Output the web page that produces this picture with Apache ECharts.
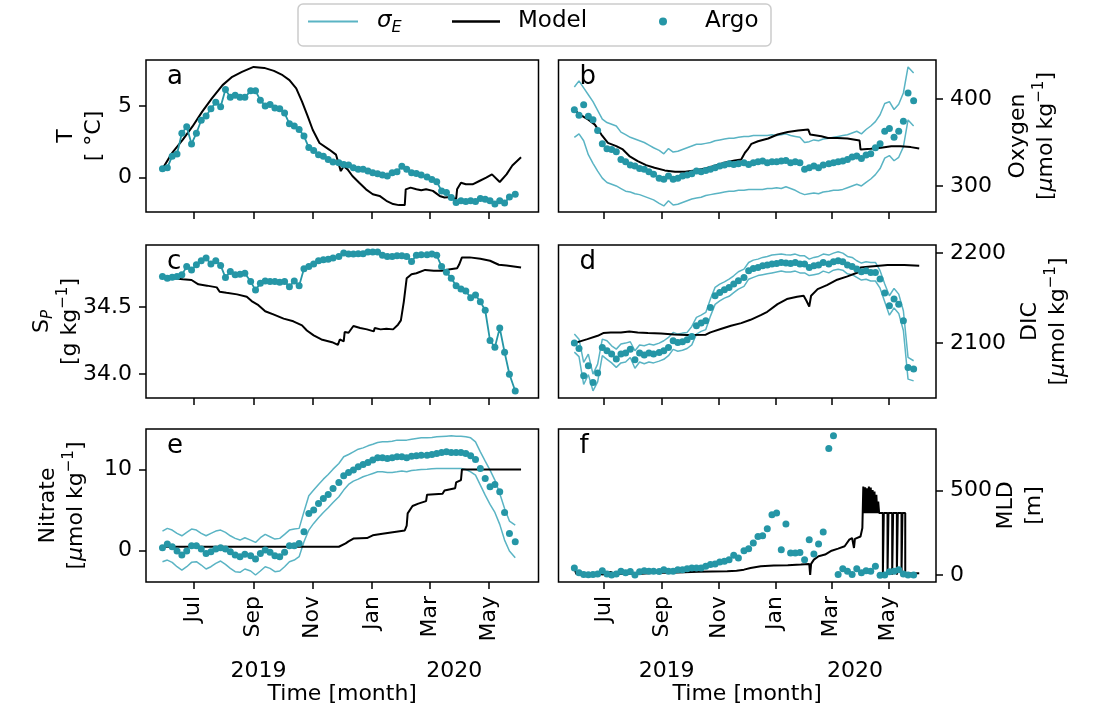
<!DOCTYPE html>
<html><head><meta charset="utf-8">
<script src="https://cdn.jsdelivr.net/npm/echarts@6/dist/echarts.min.js"></script>
<style>html,body{margin:0;padding:0;background:#fff}#c{width:1095px;height:713px}</style>
</head><body><div id="c"></div>
<script>
// ---------------- data ----------------
const MONTH_TICKS = ['2019-07-01','2019-09-01','2019-11-01','2020-01-01','2020-03-01','2020-05-01'];
const MONTH_LABELS = ['Jul','Sep','Nov','Jan','Mar','May'];
const YEAR_TICKS = ['2019-09-06','2020-03-26'];
const YEAR_LABELS = ['2019','2020'];
const X_RANGE = ['2019-05-13','2020-06-21'];

const T_TICKS = [0, 5];
const O2_TICKS = [300, 400];
const SP_TICKS = [34.0, 34.5];
const DIC_TICKS = [2100, 2200];
const NO3_TICKS = [0, 10];
const MLD_TICKS = [0, 500];

const ARGO_DATES = ['2019-05-30','2019-06-04','2019-06-09','2019-06-14','2019-06-19','2019-06-24','2019-06-29','2019-07-04','2019-07-09','2019-07-14',
'2019-07-19','2019-07-24','2019-07-29','2019-08-03','2019-08-08','2019-08-13','2019-08-18','2019-08-23','2019-08-29','2019-09-03',
'2019-09-08','2019-09-13','2019-09-18','2019-09-23','2019-09-28','2019-10-03','2019-10-08','2019-10-13','2019-10-18','2019-10-23',
'2019-10-28','2019-11-02','2019-11-07','2019-11-12','2019-11-17','2019-11-22','2019-11-28','2019-12-03','2019-12-08','2019-12-13',
'2019-12-18','2019-12-23','2019-12-28','2020-01-02','2020-01-07','2020-01-12','2020-01-17','2020-01-22','2020-01-27','2020-02-01',
'2020-02-06','2020-02-11','2020-02-16','2020-02-21','2020-02-27','2020-03-03','2020-03-08','2020-03-13','2020-03-18','2020-03-23',
'2020-03-28','2020-04-02','2020-04-07','2020-04-12','2020-04-17','2020-04-22','2020-04-27','2020-05-02','2020-05-07','2020-05-12',
'2020-05-17','2020-05-22','2020-05-28'];

const T_ARGO = [0.62,0.69,1.5,1.65,3.1,3.55,2.35,3.1,4.0,4.3, 4.8,5.25,4.95,6.15,5.6,5.75,5.6,5.6,6.05,6.05,
5.4,5.0,5.1,4.85,4.8,4.5,3.75,3.6,3.35,2.9, 2.1,1.9,1.6,1.5,1.27,1.1,1.04,0.92,0.88,0.69,
0.58,0.58,0.46,0.35,0.28,0.18,0.12,0.35,0.41,0.8, 0.58,0.35,0.3,0.18,0.05,-0.12,-0.28,-0.92,-1.04,-1.38,
-1.73,-1.61,-1.66,-1.61,-1.66,-1.45,-1.5,-1.6,-1.84,-1.61, -1.77,-1.34,-1.15];

const O2_ARGO = [387.8,381.3,393.5,380.2,376.3,363.7,348.5,342.7,342,339.3, 330.5,327.9,324,322.9,320.2,319.1,316.4,313.4,308.8,307.6,
311.5,307.6,308.8,311.5,312.6,314.1,317.2,316.4,317.9,319.1, 321,322.9,324,325.6,324.8,325.6,326.7,324.8,326.7,327.9,
328.6,326.7,327.9,327.9,328.6,329.4,326.7,327.9,326.7,319.1, 321,322.9,321,324,325.6,326.7,327.9,328.6,330.5,333.2,
334.4,331.7,335.5,337,343.9,348.5,363,366,356.1,363, 374.4,406.9,398.1];
const O2_UPPER = [414,421,413,405,397,387,377,373,371,369, 362,359,356,354,352,350,347,344,341,337,
343,339,340,342,344,346,348,348,349,350, 352,353,354,355,355,356,357,357,358,358,
358,358,359,358,359,360,358,357,356,350, 351,353,352,354,355,356,357,358,359,361,
363,360,365,369,374,382,395,397,388,394, 407,437,430];
const O2_LOWER = [356,360,352,336,326,317,309,304,302,300, 297,294,293,291,290,288,286,284,280,277,
283,278,279,281,283,285,286,287,289,290, 291,292,293,294,294,295,295,296,296,296,
296,297,297,298,297,299,297,295,292,290, 291,292,291,293,294,295,295,296,298,300,
302,300,304,308,313,320,332,335,329,333, 345,376,369];

const SP_ARGO = [34.725,34.713,34.72,34.725,34.738,34.8,34.775,34.813,34.843,34.863, 34.818,34.843,34.808,34.718,34.763,34.738,34.743,34.75,34.688,34.625,
34.675,34.693,34.688,34.688,34.683,34.688,34.65,34.693,34.658,34.783, 34.8,34.818,34.843,34.85,34.855,34.863,34.875,34.9,34.893,34.893,
34.895,34.895,34.908,34.908,34.908,34.883,34.875,34.875,34.88,34.88, 34.875,34.838,34.883,34.888,34.888,34.893,34.883,34.8,34.758,34.713,
34.658,34.633,34.618,34.568,34.588,34.538,34.475,34.25,34.2,34.343, 34.163,34.0,33.875];

const DIC_ARGO = [2100,2094,2063.7,2074.8,2056.3,2066.7,2095.2,2091.5,2087.8,2082.2, 2087.8,2088.9,2093.3,2081.5,2088.9,2086.7,2088.9,2087.8,2089.6,2091.5,
2095.2,2102.6,2100.7,2101.5,2103.7,2107.4,2119.3,2122.2,2124.8,2139.6, 2152.6,2156.3,2159.3,2161.9,2165.6,2169.3,2173,2180.4,2183,2184.1,
2186,2186.7,2187.8,2188.5,2189.6,2188.9,2188.5,2189.6,2187.8,2187.8, 2184.1,2186,2186.7,2189.6,2187.8,2190.4,2191.5,2190.4,2186.7,2185.2,
2182.2,2179.3,2180.4,2178.5,2178.5,2171.1,2155.6,2141.5,2148.9,2143.3, 2124.8,2073,2071.1];
const DIC_UPPER = [2110,2104.4,2078.5,2087.8,2065.6,2076.7,2104.4,2102.6,2097,2093.3, 2098.9,2100,2101.5,2091.5,2097.8,2097,2098.9,2097.8,2100,2102.6,
2106.3,2111.9,2110,2111.1,2111.9,2118.5,2128.5,2131.1,2134.1,2148.9, 2161.9,2165.6,2168.1,2171.1,2174.8,2179.3,2182.2,2189.6,2192.2,2193.3,
2195.2,2196.3,2197.8,2198.5,2198.9,2198.1,2197.8,2198.9,2197,2197, 2193.3,2195.2,2196.3,2198.9,2197.8,2200,2201.5,2200,2196.3,2195.2,
2191.5,2188.9,2190.4,2189.6,2189.6,2180.4,2165.6,2152.6,2160.7,2154.4, 2135.9,2084.1,2080.4];
const DIC_LOWER = [2090,2085,2054,2065,2047,2057,2086,2082,2078,2073, 2078,2079,2084,2072,2079,2077,2079,2078,2080,2082,
2086,2093,2091,2092,2094,2098,2110,2113,2115,2130, 2143,2147,2150,2152,2156,2160,2163,2171,2173,2175,
2176,2177,2178,2179,2180,2179,2179,2180,2178,2178, 2175,2176,2177,2180,2178,2181,2182,2181,2177,2176,
2173,2170,2171,2169,2169,2161,2146,2131,2139,2133, 2114,2060,2058];

const NO3_ARGO = [0.37,0.82,0.49,-0.04,-0.53,-0.04,0.61,0.61,0.2,-0.33, -0.12,0.2,0.37,0.2,-0.12,-0.53,-0.74,-0.45,-0.61,-1.02,
-0.33,0.08,-0.2,-0.61,-0.74,-0.2,0.61,0.61,0.9,2.34, 4.59,5.0,5.82,6.43,6.93,7.66,8.4,9.22,9.63,9.92,
10.33,10.61,10.86,11.15,11.43,11.43,11.35,11.43,11.56,11.56, 11.43,11.64,11.68,11.76,11.76,11.84,11.97,12.09,12.17,12.09,
12.09,12.09,11.97,11.68,11.23,10.12,8.89,7.87,8.16,7.25, 4.71,2.13,1.11];
const NO3_UPPER = [2.42,2.75,2.54,2.13,1.84,2.25,2.66,2.54,2.13,1.84, 2.13,2.42,2.54,2.25,1.84,1.52,1.31,1.6,1.31,1.02,
1.6,2.01,1.72,1.43,1.52,2.01,2.54,2.66,2.75,4.8, 6.76,7.46,8.16,8.81,9.39,10.04,10.74,11.56,11.84,12.17,
12.5,12.66,12.91,13.11,13.32,13.4,13.4,13.48,13.61,13.61, 13.61,13.73,13.81,13.89,13.89,13.93,14.02,14.06,14.1,14.14,
14.1,14.1,14.02,13.89,13.4,12.17,11.02,9.92,8.69,7.05, 5.2,3.65,3.16];
const NO3_LOWER = [-1.35,-1.15,-1.43,-1.97,-2.38,-1.97,-1.43,-1.35,-1.76,-2.25, -1.97,-1.56,-1.27,-1.68,-2.17,-2.58,-2.66,-2.25,-2.5,-2.99,
-2.5,-1.97,-2.17,-2.58,-2.5,-1.97,-1.35,-1.15,-0.74,1.11, 2.54,3.36,4.06,4.71,5.29,5.94,6.64,7.46,8.16,8.57,
8.81,9.1,9.3,9.51,9.71,9.71,9.63,9.63,9.71,9.8, 9.71,9.88,9.92,10.0,10.04,10.08,10.12,10.12,10.12,10.12,
10.12,10.12,10.0,9.71,9.3,8.07,6.84,5.7,4.71,3.24, 1.31,-0.04,-0.86];

const MLD_ARGO = [43,14,5,3,4,8,27,8,2,8, 24,14,22,2,20,27,24,24,22,33, 24,24,33,33,39,43,43,43,53,63,
67,78,82,92,118,102,145,157,190,229, 233,275,357,367,151,302,131,131,135,92, 210,125,184,255,749,824,4,39,24,4,
39,14,27,24,53,0,2,20,24,33, 8,2,2];

const MODEL_T_DATES = ['2019-05-30','2019-06-09','2019-06-20','2019-06-30','2019-07-10','2019-07-20','2019-07-31','2019-08-10','2019-08-20','2019-09-01',
'2019-09-12','2019-09-22','2019-10-01','2019-10-08','2019-10-15','2019-10-21','2019-10-27','2019-11-01','2019-11-08','2019-11-18',
'2019-11-25','2019-11-30','2019-12-03','2019-12-07','2019-12-12','2019-12-19','2019-12-26','2020-01-02','2020-01-09','2020-01-16',
'2020-01-23','2020-01-29','2020-02-04','2020-02-05','2020-02-10','2020-02-16','2020-02-21','2020-02-26','2020-03-04','2020-03-11',
'2020-03-16','2020-03-23','2020-03-28','2020-03-29','2020-04-02','2020-04-07','2020-04-14','2020-04-21','2020-04-28','2020-05-04',
'2020-05-12','2020-05-19','2020-05-25','2020-06-03'];
const MODEL_T = [0.62,1.73,2.65,3.57,4.6,5.53,6.45,7.03,7.37,7.72, 7.65,7.44,7.14,6.8,6.22,5.3,4.26,3.34,2.42,1.96,
1.61,0.46,0.8,0.58,0.12,-0.35,-0.81,-1.15,-1.27,-1.61, -1.84,-1.91,-1.91,-0.81,-0.69,-0.81,-0.88,-0.81,-0.92,-1.27,
-1.38,-1.34,-1.5,-0.81,-0.35,-0.46,-0.46,-0.23,0.0,0.23, -0.3,0.23,0.85,1.43];

const MODEL_O2_DATES = ['2019-05-30','2019-06-05','2019-06-14','2019-06-21','2019-06-28','2019-07-05','2019-07-14','2019-07-21','2019-07-28','2019-08-06',
'2019-08-15','2019-08-24','2019-09-04','2019-09-15','2019-09-26','2019-10-06','2019-10-17','2019-10-27','2019-11-07','2019-11-18',
'2019-11-25','2019-11-29','2019-12-02','2019-12-06','2019-12-13','2019-12-24','2020-01-03','2020-01-14','2020-01-25','2020-02-05',
'2020-02-07','2020-02-19','2020-02-26','2020-03-07','2020-03-18','2020-03-31','2020-04-01','2020-04-12','2020-04-23','2020-05-04',
'2020-05-14','2020-05-25','2020-06-03'];
const MODEL_O2 = [387.8,382,376.3,370.6,359.2,349.6,345.8,342,334.4,328.6, 324,321,317.9,316.4,316.4,317.9,320.2,322.9,326.7,329.4,
330.5,338.2,342,348.5,351.5,354.6,359.2,362.2,363.7,364.9, 359.2,357.3,355.3,355.3,354.6,352.3,342,342.7,343.9,345.8,
345.8,344.7,343.1];

const MODEL_SP_DATES = ['2019-05-30','2019-06-10','2019-06-20','2019-06-29','2019-07-06','2019-07-15','2019-07-25','2019-07-28','2019-08-04','2019-08-15',
'2019-08-25','2019-08-30','2019-09-06','2019-09-13','2019-09-22','2019-10-02','2019-10-12','2019-10-21','2019-10-26','2019-11-02',
'2019-11-10','2019-11-21','2019-11-27','2019-11-29','2019-12-03','2019-12-04','2019-12-08','2019-12-13','2019-12-20','2019-12-27',
'2020-01-03','2020-01-04','2020-01-10','2020-01-16','2020-01-23','2020-01-28','2020-01-31','2020-02-03','2020-02-06','2020-02-11',
'2020-02-16','2020-02-25','2020-03-05','2020-03-13','2020-03-22','2020-03-29','2020-03-31','2020-04-03','2020-04-11','2020-04-22',
'2020-05-02','2020-05-11','2020-05-19','2020-06-03'];
const MODEL_SP = [34.72,34.713,34.705,34.7,34.668,34.658,34.645,34.613,34.605,34.593, 34.575,34.543,34.513,34.468,34.443,34.413,34.393,34.363,34.325,34.288,
34.258,34.238,34.218,34.258,34.243,34.313,34.308,34.358,34.343,34.333, 34.318,34.343,34.333,34.338,34.333,34.368,34.4,34.538,34.713,34.743,
34.75,34.775,34.768,34.768,34.78,34.788,34.813,34.868,34.868,34.858, 34.843,34.813,34.808,34.793];

const MODEL_DIC_DATES = ['2019-05-30','2019-06-13','2019-06-24','2019-06-30','2019-07-08','2019-07-19','2019-07-28','2019-08-06','2019-08-17','2019-08-31',
'2019-09-14','2019-09-28','2019-10-18','2019-10-23','2019-11-03','2019-11-14','2019-11-25','2019-12-05','2019-12-16','2019-12-23',
'2020-01-03','2020-01-13','2020-01-24','2020-01-31','2020-02-03','2020-02-06','2020-02-08','2020-02-15','2020-02-25','2020-03-07',
'2020-03-18','2020-03-29','2020-04-01','2020-04-12','2020-04-30','2020-05-18','2020-06-03'];
const MODEL_DIC = [2100,2104.4,2108.1,2111.1,2111.9,2111.9,2113,2111.9,2111.1,2110.7, 2109.6,2108.9,2109.3,2111.9,2115.6,2119.3,2122.2,2125.9,2131.1,2134.8,
2143.3,2148.9,2151.5,2152.6,2147,2140.7,2152.6,2160,2164.4,2170.4, 2174.1,2178.5,2184.1,2185.2,2186.7,2186.7,2185.9];

const MODEL_NO3_DATES = ['2019-05-30','2019-11-28','2019-11-30','2019-12-05','2019-12-08','2019-12-13','2019-12-27','2020-01-02','2020-01-12','2020-01-14',
'2020-02-04','2020-02-06','2020-02-07','2020-02-12','2020-02-18','2020-02-20','2020-02-26','2020-02-27','2020-03-14','2020-03-16',
'2020-03-27','2020-03-28','2020-04-02','2020-04-03','2020-06-03'];
const MODEL_NO3 = [0.49,0.49,0.7,0.9,1.15,1.5,1.55,1.9,2.1,2.3, 2.5,3.1,4.6,5.5,5.8,6.0,6.1,6.9,7.0,7.4, 7.7,8.4,8.7,10.0,10.0];

const MODEL_MLD_DATES = ['2019-05-30','2019-06-01','2019-06-10','2019-06-20','2019-06-30','2019-07-08','2019-07-12','2019-07-25','2019-08-10','2019-08-25',
'2019-09-10','2019-09-25','2019-10-10','2019-10-25','2019-11-10','2019-11-20','2019-11-28','2019-12-05','2019-12-16','2019-12-30',
'2020-01-14','2020-01-28','2020-02-06','2020-02-07','2020-02-08','2020-02-11','2020-02-16','2020-02-23','2020-03-01','2020-03-08',
'2020-03-15','2020-03-20','2020-03-23','2020-03-25','2020-03-26','2020-04-01','2020-04-03','2020-04-04','2020-04-05','2020-04-06',
'2020-04-07','2020-04-08','2020-04-09','2020-04-10','2020-04-11','2020-04-12','2020-04-13','2020-04-14','2020-04-15','2020-04-16',
'2020-04-17','2020-04-18','2020-04-19','2020-04-20','2020-04-21','2020-04-25','2020-04-25','2020-04-26','2020-04-30','2020-04-30',
'2020-05-01','2020-05-05','2020-05-05','2020-05-06','2020-05-10','2020-05-10','2020-05-11','2020-05-15','2020-05-15','2020-05-16',
'2020-05-19','2020-05-19','2020-05-25','2020-06-03'];
const MODEL_MLD = [43,8,3,12,5,20,6,10,8,15, 14,18,20,22,24,27,33,43,53,57,
59,63,67,2,67,92,112,122,145,157, 171,210,220,161,215,229,279,524,367,520,
367,514,367,524,367,518,367,504,367,494, 367,475,367,435,367,367,3,367,367,3,
367,367,3,367,367,3,367,367,3,367, 367,14,10,12];

// ---------------- chart ----------------
const FONT = 'DejaVu Sans';
const FS = 22;
const ARGO_C = '#2596a6', SIG_C = '#5ab4c4', MODEL_C = '#000000';
const ms = s => Date.parse(s);
const pairs = (d, v) => d.map((x, i) => [ms(x), v[i]]);
const MONTH_MS = MONTH_TICKS.map(ms);
const YEAR_MS = YEAR_TICKS.map(ms);
const X_MIN = ms(X_RANGE[0]), X_MAX = ms(X_RANGE[1]);

const RICH = {
  n: {fontFamily: FONT, fontSize: FS, color: '#000', lineHeight: 28},
  it: {fontFamily: FONT, fontSize: FS, fontStyle: 'italic', color: '#000', lineHeight: 28},
  sub: {fontFamily: FONT, fontSize: 15, fontStyle: 'italic', color: '#000', lineHeight: 14, verticalAlign: 'bottom'},
  sup: {fontFamily: FONT, fontSize: 15, color: '#000', lineHeight: 14, verticalAlign: 'top'}
};
const UNIT = '{n|[}{it|μ}{n|mol kg}{sup|−1}{n|]}';

const LX = 146, LW = 392.5, RX = 558.5, RW = 377.5;
const PANELS = [
  {grid: {left: LX, top: 60, width: LW, height: 152}, side: 'left', min: -2.39, max: 8.2, ticks: T_TICKS, fmt: v => String(v),
   name: '{n|T}\n{n|[ °C]}', gap: 38, letter: 'a', bottom: false},
  {grid: {left: RX, top: 60, width: RW, height: 152}, side: 'right', min: 270, max: 445, ticks: O2_TICKS, fmt: v => String(v),
   name: '{n|Oxygen}\n' + UNIT, gap: 68, letter: 'b', bottom: false},
  {grid: {left: LX, top: 245, width: LW, height: 153}, side: 'left', min: 33.823, max: 34.96, ticks: SP_TICKS, fmt: v => v.toFixed(1),
   name: '{n|S}{sub|P}\n{n|[g kg}{sup|−1}{n|]}', gap: 62, letter: 'c', bottom: false},
  {grid: {left: RX, top: 245, width: RW, height: 153}, side: 'right', min: 2039, max: 2209, ticks: DIC_TICKS, fmt: v => String(v),
   name: '{n|DIC}\n' + UNIT, gap: 80, letter: 'd', bottom: false},
  {grid: {left: LX, top: 429, width: LW, height: 153}, side: 'left', min: -3.85, max: 14.98, ticks: NO3_TICKS, fmt: v => String(v),
   name: '{n|Nitrate}\n' + UNIT, gap: 56, letter: 'e', bottom: true},
  {grid: {left: RX, top: 429, width: RW, height: 153}, side: 'right', min: -40, max: 864, ticks: MLD_TICKS, fmt: v => String(v),
   name: '{n|MLD}\n{n|[m]}', gap: 56, letter: 'f', bottom: true}
];

const SERIES_DATA = [
  {argo: T_ARGO, argoLine: true, model: [MODEL_T_DATES, MODEL_T]},
  {argo: O2_ARGO, upper: O2_UPPER, lower: O2_LOWER, model: [MODEL_O2_DATES, MODEL_O2]},
  {argo: SP_ARGO, argoLine: true, model: [MODEL_SP_DATES, MODEL_SP]},
  {argo: DIC_ARGO, upper: DIC_UPPER, lower: DIC_LOWER, model: [MODEL_DIC_DATES, MODEL_DIC]},
  {argo: NO3_ARGO, upper: NO3_UPPER, lower: NO3_LOWER, model: [MODEL_NO3_DATES, MODEL_NO3]},
  {argo: MLD_ARGO, model: [MODEL_MLD_DATES, MODEL_MLD]}
];

const grids = [], xAxes = [], yAxes = [], series = [], graphics = [];
const tickStyle = {color: '#000', width: 1.5};
const labelStyle = {fontFamily: FONT, fontSize: FS, color: '#000'};

PANELS.forEach((p, i) => {
  grids.push(Object.assign({show: true, borderColor: '#000', borderWidth: 1.5, backgroundColor: 'transparent'}, p.grid));
  const xi = xAxes.length;
  xAxes.push({
    gridIndex: i, type: 'value', min: X_MIN, max: X_MAX, position: 'bottom',
    axisLine: {show: false, onZero: false}, splitLine: {show: false},
    axisTick: {show: true, length: 7, inside: false, customValues: MONTH_MS, lineStyle: tickStyle},
    axisLabel: Object.assign({show: p.bottom, customValues: MONTH_MS, rotate: 90, margin: 14,
      formatter: v => { const k = MONTH_MS.indexOf(v); return k >= 0 ? MONTH_LABELS[k] : ''; }}, labelStyle)
  });
  if (p.bottom) {
    xAxes.push({
      gridIndex: i, type: 'value', min: X_MIN, max: X_MAX, position: 'bottom', offset: 0,
      axisLine: {show: false, onZero: false}, axisTick: {show: false}, splitLine: {show: false},
      axisLabel: Object.assign({customValues: YEAR_MS, margin: 78,
        formatter: v => { const k = YEAR_MS.indexOf(v); return k >= 0 ? YEAR_LABELS[k] : ''; }}, labelStyle),
      name: 'Time [month]', nameLocation: 'middle', nameGap: 101, nameMoveOverlap: false,
      nameTextStyle: labelStyle
    });
  }
  yAxes.push({
    gridIndex: i, type: 'value', min: p.min, max: p.max, position: p.side,
    axisLine: {show: false, onZero: false}, splitLine: {show: false},
    axisTick: {show: true, length: 7, inside: false, customValues: p.ticks, lineStyle: tickStyle},
    axisLabel: Object.assign({customValues: p.ticks, margin: 14, formatter: p.fmt}, labelStyle),
    name: p.name, nameLocation: 'middle', nameRotate: 90, nameGap: p.gap, nameMoveOverlap: false,
    nameTextStyle: {fontFamily: FONT, fontSize: FS, color: '#000', lineHeight: 28, align: 'center', rich: RICH}
  });

  const s = SERIES_DATA[i];
  if (s.upper) {
    [s.upper, s.lower].forEach(arr => series.push({
      type: 'line', name: 'sigma', xAxisIndex: xi, yAxisIndex: i, data: pairs(ARGO_DATES, arr),
      symbol: 'none', lineStyle: {color: SIG_C, width: 1.5}, itemStyle: {color: SIG_C}, z: 2, silent: true
    }));
  }
  series.push({
    type: 'line', name: 'Model', xAxisIndex: xi, yAxisIndex: i, data: pairs(s.model[0], s.model[1]),
    symbol: 'none', lineStyle: {color: MODEL_C, width: 2}, itemStyle: {color: MODEL_C}, z: 3, silent: true
  });
  if (s.argoLine) {
    series.push({
      type: 'line', name: 'Argo', xAxisIndex: xi, yAxisIndex: i, data: pairs(ARGO_DATES, s.argo),
      symbol: 'circle', symbolSize: 7, showSymbol: true, lineStyle: {color: ARGO_C, width: 1.8},
      itemStyle: {color: ARGO_C}, z: 4, silent: true
    });
  } else {
    series.push({
      type: 'scatter', name: 'Argo', xAxisIndex: xi, yAxisIndex: i, data: pairs(ARGO_DATES, s.argo),
      symbol: 'circle', symbolSize: 7, itemStyle: {color: ARGO_C, opacity: 1}, z: 4, silent: true
    });
  }
  graphics.push({type: 'text', x: p.grid.left + 21, y: p.grid.top + 17, z: 10,
    style: {text: p.letter, fontFamily: FONT, fontSize: 26, fill: '#000', align: 'left', verticalAlign: 'middle',
            textAlign: 'left', textVerticalAlign: 'middle'}});
});

graphics.push({type: 'rect', shape: {x: 298, y: 4, width: 473, height: 42, r: 5},
  style: {fill: 'none', stroke: '#cccccc', lineWidth: 1.5}, z: 1, silent: true});

const legRich = gw => Object.assign({g: {width: gw, height: 10}}, RICH,
  {n: {fontFamily: FONT, fontSize: 23, color: '#000', lineHeight: 28},
   it: {fontFamily: FONT, fontSize: 23, fontStyle: 'italic', color: '#000', lineHeight: 28},
   sub: {fontFamily: FONT, fontSize: 16, fontStyle: 'italic', color: '#000', lineHeight: 14, verticalAlign: 'bottom'}});
const legBase = {top: 10, padding: 0, selectedMode: false, itemHeight: 2, itemWidth: 50};

const option = {
  animation: false,
  backgroundColor: '#ffffff',
  textStyle: {fontFamily: FONT},
  grid: grids, xAxis: xAxes, yAxis: yAxes, series: series,
  graphic: {elements: graphics},
  legend: [
    Object.assign({}, legBase, {data: [{name: 'sigma', icon: 'rect'}], left: 308,
      formatter: () => '{g|}{it|σ}{sub|E}', textStyle: {rich: legRich(14)}}),
    Object.assign({}, legBase, {data: [{name: 'Model', icon: 'rect'}], left: 452, itemWidth: 48, itemHeight: 2.5,
      formatter: () => '{g|}{n|Model}', textStyle: {rich: legRich(13)}}),
    Object.assign({}, legBase, {data: [{name: 'Argo', icon: 'circle'}], left: 659, itemWidth: 8, itemHeight: 8,
      formatter: () => '{g|}{n|Argo}', textStyle: {rich: legRich(33)}})
  ]
};

const chart = echarts.init(document.getElementById('c'), null, {renderer: 'canvas'});
chart.setOption(option);
</script>
</body></html>
